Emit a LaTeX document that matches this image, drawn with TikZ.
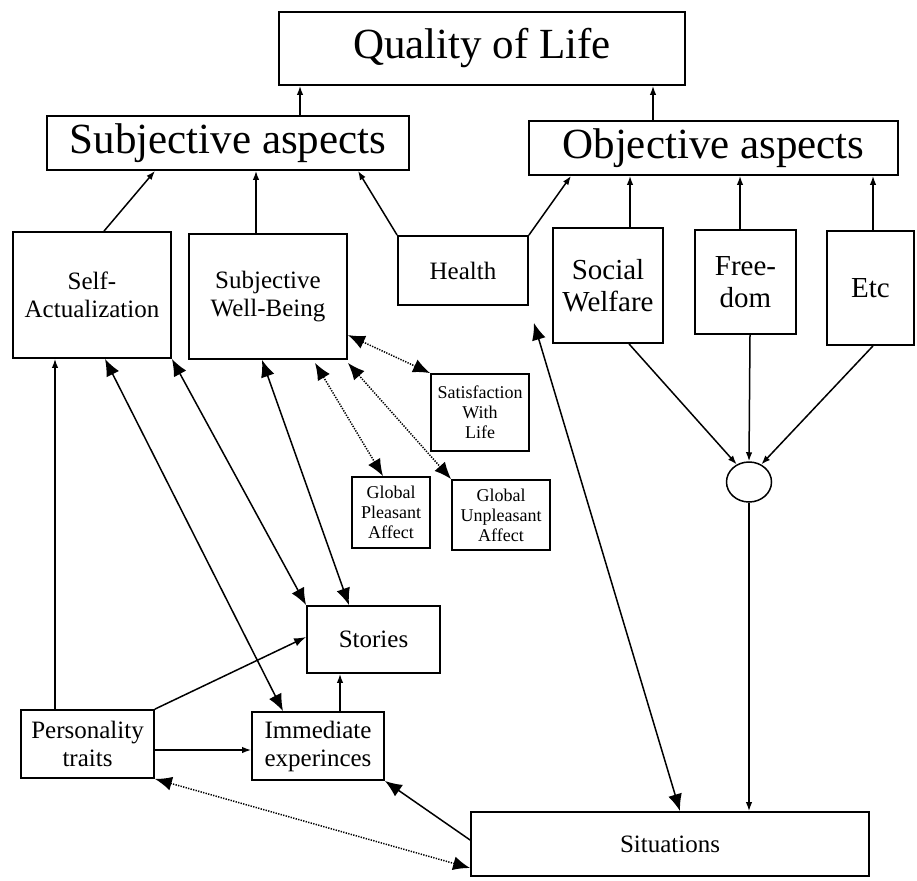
\documentclass[tikz,border=0pt]{standalone}
\usepackage{fontspec}
\setmainfont{Liberation Serif}
\usetikzlibrary{arrows.meta,shapes.geometric,calc}
\tikzset{
 box/.style={draw, line width=1.8pt, inner sep=0pt, align=center, font=\fontsize{25}{28}\selectfont},
 bigtxt/.style={font=\fontsize{43}{48}\selectfont},
 midtxt/.style={font=\fontsize{29}{32}\selectfont},
 smalltxt/.style={font=\fontsize{18}{20}\selectfont},
 conn/.style={line width=1.5pt},
 sarr/.style={conn, -{Latex[length=9pt,width=6.5pt]}},
 marr/.style={conn, -{Latex[length=12pt,width=8.5pt]}},
 barr/.style={conn, -{Latex[length=17pt,width=14pt]}},
 dbarr/.style={conn, {Latex[length=17pt,width=14pt]}-{Latex[length=17pt,width=14pt]}},
 dotline/.style={line width=1.6pt, dash pattern=on 1.3pt off 1.3pt},
}
\begin{document}
\begin{tikzpicture}[x=1pt,y=-1pt]
\useasboundingbox (0,0) rectangle (917,880);
% nodes
\node[box,bigtxt,minimum width=406pt,minimum height=73pt] (qol) at (482,48.5) {Quality of Life};
\node[box,bigtxt,minimum width=362pt,minimum height=54pt] (subj) at (228,143) {Subjective aspects};
\node[box,bigtxt,minimum width=369pt,minimum height=54pt] (obj) at (713.5,148) {Objective aspects};
\node[box,minimum width=158pt,minimum height=126pt] (selfact) at (92,295) {Self-\\Actualization};
\node[box,minimum width=158pt,minimum height=125pt] (swb) at (268,296.5) {Subjective\\Well-Being};
\node[box,minimum width=130pt,minimum height=69pt] (health) at (463,270.5) {Health};
\node[box,midtxt,minimum width=110pt,minimum height=115pt] (social) at (608,285.5) {Social\\Welfare};
\node[box,midtxt,minimum width=101pt,minimum height=104pt] (freedom) at (745.5,282) {Free-\\dom};
\node[box,midtxt,minimum width=87pt,minimum height=114pt] (etc) at (870.5,288) {Etc};
\node[box,smalltxt,minimum width=98pt,minimum height=77pt] (satis) at (480,412.5) {Satisfaction\\With\\Life};
\node[box,smalltxt,minimum width=78pt,minimum height=71pt] (gpa) at (391,512.5) {Global\\Pleasant\\Affect};
\node[box,smalltxt,minimum width=98pt,minimum height=70pt] (gua) at (501,515) {Global\\Unpleasant\\Affect};
\node[draw,ellipse,line width=1.5pt,minimum width=45pt,minimum height=40pt,inner sep=0pt] (circ) at (749,482) {};
\node[box,minimum width=133pt,minimum height=67pt] (stories) at (373.5,639.5) {Stories};
\node[box,minimum width=133pt,minimum height=68pt] (pers) at (87.5,744) {Personality\\traits};
\node[box,minimum width=132pt,minimum height=68pt] (imm) at (318,746) {Immediate\\experinces};
\node[box,minimum width=398pt,minimum height=64pt] (sit) at (670,844) {Situations};
% top level
\draw[sarr] ([xshift=72pt]subj.north) -- ([xshift=72pt]subj.north |- qol.south);
\draw[sarr] ([xshift=-60.5pt]obj.north) -- ([xshift=-60.5pt]obj.north |- qol.south);
\draw[sarr] ([xshift=12pt]selfact.north) -- ([xshift=-73pt]subj.south);
\draw[sarr] ([xshift=-12pt]swb.north) -- ([xshift=-12pt]swb.north |- subj.south);
\draw[sarr] (health.north west) -- ([xshift=130pt]subj.south);
\draw[sarr] (health.north east) -- ([xshift=-142.5pt]obj.south);
\draw[sarr] ([xshift=22pt]social.north) -- ([xshift=22pt]social.north |- obj.south);
\draw[sarr] ([xshift=-5.5pt]freedom.north) -- ([xshift=-5.5pt]freedom.north |- obj.south);
\draw[sarr] ([xshift=2.5pt]etc.north) -- ([xshift=2.5pt]etc.north |- obj.south);
% circle
\draw[sarr] ([xshift=21pt]social.south) -- (circ.125);
\draw[sarr] ([xshift=4.5pt]freedom.south) -- (circ.north);
\draw[sarr] ([xshift=2.5pt]etc.south) -- (circ.55);
\draw[sarr] (circ.south) -- (circ.south |- sit.north);
% situations - health
\draw[dbarr] ([xshift=10pt]sit.north) -- ([xshift=5pt,yshift=-17pt]health.south east);
% dotted
\draw[dotline,dbarr] ([yshift=-38.5pt]swb.east) -- (satis.north west);
\draw[dotline,dbarr] ([xshift=47pt,yshift=-3pt]swb.south) -- ([xshift=-8pt]gpa.north);
\draw[dotline,dbarr] ([yshift=-3pt]swb.south east) -- (gua.north west);
% lower left
\draw[sarr] ([xshift=-32.5pt]pers.north) -- ([xshift=-37pt]selfact.south);
\draw[dbarr] ([xshift=13pt]selfact.south) -- ([xshift=-35pt]imm.north);
\draw[dbarr] (selfact.south east) -- (stories.north west);
\draw[dbarr] ([xshift=-6pt]swb.south) -- ([xshift=-24.5pt]stories.north);
\draw[marr] (pers.north east) -- ([yshift=2.5pt]stories.west);
\draw[sarr] ([xshift=22pt]imm.north) -- ([xshift=22pt]imm.north |- stories.south);
\draw[sarr] ([yshift=-6pt]pers.east) -- ([yshift=-6pt]pers.east -| imm.west);
\draw[dotline,dbarr] (pers.south east) -- ([yshift=-24pt]sit.west);
\draw[barr] ([yshift=4pt]sit.west) -- (imm.south east);
\end{tikzpicture}
\end{document}
